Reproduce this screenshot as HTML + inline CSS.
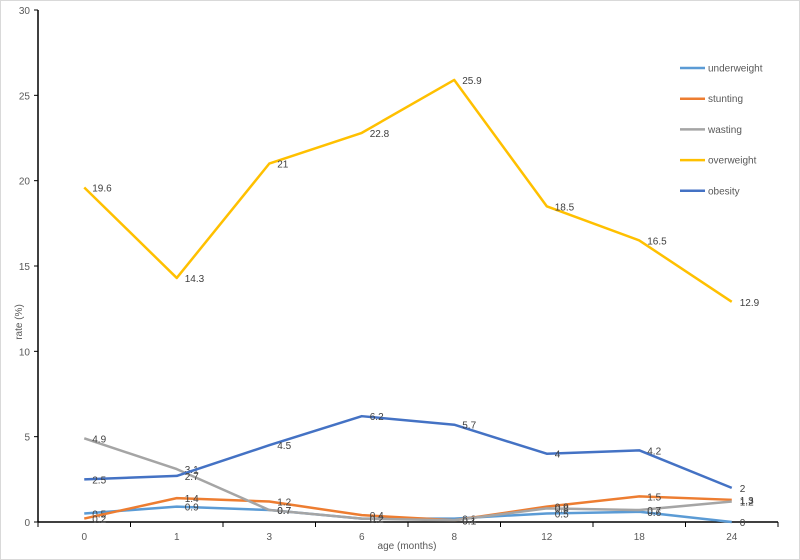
<!DOCTYPE html>
<html><head><meta charset="utf-8"><style>
body{margin:0;background:#fff;font-family:"Liberation Sans",sans-serif}
svg{display:block}
</style></head><body>
<svg id="chart" width="800" height="560">
<rect x="0.5" y="0.5" width="799" height="559" fill="#fff" stroke="#d9d9d9"/>
<g id="axes"></g><g id="series"></g><g id="legend"></g>
</svg>
<script>
const categories=["0","1","3","6","8","12","18","24"];
const seriesNames=["underweight","stunting","wasting","overweight","obesity"];
const colors=["#5b9bd5","#ed7d31","#a5a5a5","#ffc000","#4472c4"];
const underweight=[0.5,0.9,0.7,0.2,0.2,0.5,0.6,0];
const stunting=[0.2,1.4,1.2,0.4,0.1,0.9,1.5,1.3];
const wasting=[4.9,3.1,0.7,0.2,0.1,0.8,0.7,1.2];
const overweight=[19.6,14.3,21,22.8,25.9,18.5,16.5,12.9];
const obesity=[2.5,2.7,4.5,6.2,5.7,4,4.2,2];
const yTicks=[0,5,10,15,20,25,30];
const allSeries=[underweight,stunting,wasting,overweight,obesity];
const NS="http://www.w3.org/2000/svg";
const x0=38,band=92.5,y0=522,yTop=10,yMax=30;
const xs=i=>x0+band*(i+0.5);
const ys=v=>y0-(y0-yTop)*v/yMax;
function mk(tag,attrs,parent,text){const e=document.createElementNS(NS,tag);for(const k in attrs)e.setAttribute(k,attrs[k]);if(text!==undefined)e.textContent=text;parent.appendChild(e);return e;}
const axes=document.getElementById('axes');
let e=mk('line',{x1:x0,y1:yTop,x2:x0,y2:y0,stroke:'#000','stroke-width':1.5},axes);


e=mk('line',{x1:x0,y1:y0,x2:x0+band*categories.length,y2:y0,stroke:'#000','stroke-width':1.5},axes);


yTicks.forEach(t=>{
 mk('line',{x1:x0-4,y1:ys(t),x2:x0,y2:ys(t),stroke:'#000'},axes);
 const l=mk('text',{x:x0-8,y:ys(t)+4,'text-anchor':'end','font-size':10,fill:'#595959'},axes,String(t));
 
 
});
for(let i=0;i<=categories.length;i++)mk('line',{x1:x0+band*i,y1:y0,x2:x0+band*i,y2:y0+5,stroke:'#000'},axes);
categories.forEach((c,i)=>{
 const l=mk('text',{x:xs(i),y:y0+18,'text-anchor':'middle','font-size':10,fill:'#595959'},axes,c);
 
 
});
e=mk('text',{x:407,y:549,'text-anchor':'middle','font-size':10,fill:'#595959'},axes,'age (months)');


e=mk('text',{x:0,y:0,'text-anchor':'middle','font-size':10,fill:'#595959',transform:'translate(22,322) rotate(-90)'},axes,'rate (%)');


const sg=document.getElementById('series');
allSeries.forEach((vals,s)=>{
 const p=mk('polyline',{points:vals.map((v,i)=>xs(i)+','+ys(v)).join(' '),fill:'none',stroke:colors[s],'stroke-width':2.5,'stroke-linejoin':'round'},sg);
 
 
 vals.forEach((v,i)=>{
  const t=mk('text',{x:xs(i)+8,y:ys(v)+4,'font-size':10,fill:'#404040'},sg,String(v));
  
  
 });
});
const lg=document.getElementById('legend');
seriesNames.forEach((n,s)=>{
 const y=68+s*30.7;
 const g=mk('g',{},lg);
 
 
 mk('line',{x1:680,y1:y,x2:705,y2:y,stroke:colors[s],'stroke-width':2.5},g);
 mk('text',{x:708,y:y+3.5,'font-size':10,fill:'#595959'},g,n);
});
</script>
</body></html>
